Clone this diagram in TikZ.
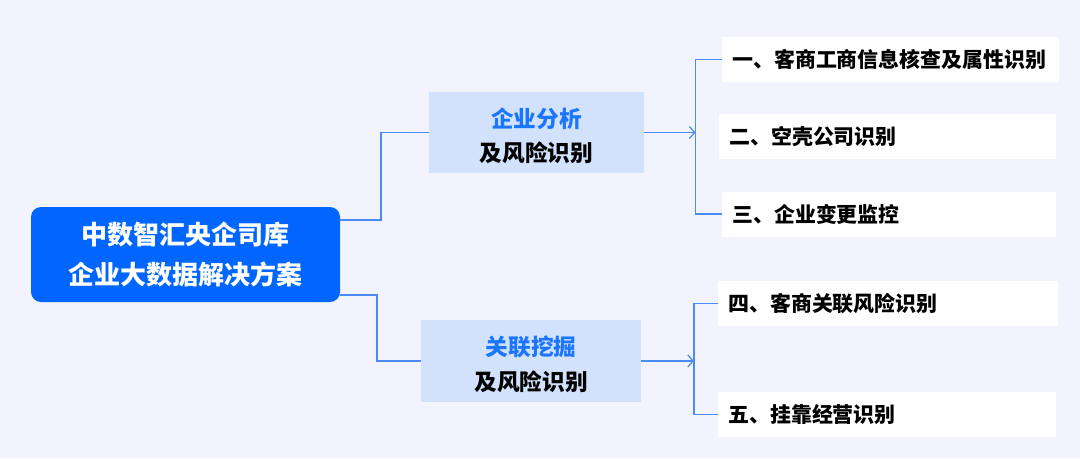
\documentclass[tikz,border=0pt]{standalone}
\usepackage{fontspec}
\newfontfamily\cjk{Noto Sans CJK SC}
\usetikzlibrary{arrows.meta}
\definecolor{bg}{HTML}{F2F3FD}
\definecolor{mainblue}{HTML}{0066FF}
\definecolor{midfill}{HTML}{D2E2FD}
\definecolor{bluetext}{HTML}{1A75FF}
\definecolor{linecol}{HTML}{4A8BF5}
\tikzset{
  mainbox/.style={fill=mainblue, rounded corners=7.5pt, text=white, align=center,
    minimum width=231.75pt, minimum height=71.25pt, inner sep=0pt,
    font=\cjk\bfseries\fontsize{19.5}{28}\selectfont},
  midbox/.style={fill=midfill, align=center, inner sep=0pt,
    font=\cjk\bfseries\fontsize{17}{24}\selectfont},
  leafbox/.style={fill=white, anchor=west, align=left, inner xsep=7.5pt, inner ysep=0pt,
    minimum height=33.75pt, font=\cjk\bfseries\fontsize{15.7}{18}\selectfont},
  conn/.style={draw=linecol, line width=0.95pt},
  arr/.style={conn, -{Straight Barb[length=4pt, width=9pt, line width=0.95pt]}}
}
\begin{document}
\begin{tikzpicture}[x=0.75pt, y=-0.75pt]
\fill[bg] (0,0) rectangle (1080,458);
\useasboundingbox (0,0) rectangle (1080,458);
\node[mainbox] (main) at (185.5,254.5) {中数智汇央企司库\\[2pt]企业大数据解决方案};
\node[midbox, minimum width=161.25pt, minimum height=60.75pt] (b1) at (536.5,132.5)
  {\rule{0pt}{19.5pt}\textcolor{bluetext}{企业分析}\\[2pt]及风险识别};
\node[midbox, minimum width=165pt, minimum height=61.5pt] (b2) at (531,361)
  {\rule{0pt}{19.5pt}\textcolor{bluetext}{关联挖掘}\\[2pt]及风险识别};
\node[leafbox, text width=237.75pt] (la) at (722,59.5) {一、客商工商信息核查及属性识别};
\node[leafbox, text width=237.75pt] (lb) at (719,136.5) {二、空壳公司识别};
\node[leafbox, text width=235.5pt] (lc) at (722,214) {三、企业变更监控};
\node[leafbox, text width=240pt] (ld) at (718,303.5) {四、客商关联风险识别};
\node[leafbox, text width=238.5pt] (le) at (718,414.5) {五、挂靠经营识别};
\coordinate (m1) at (340,220);
\coordinate (m2) at (340,295);
\coordinate (j1) at (695.5,132.5);
\coordinate (j2) at (694,361);
\draw[conn] (m1) -- ++(41,0) |- (b1.west);
\draw[conn] (m2) -- ++(37,0) |- (b2.west);
\draw[arr] (b1.east) -- (j1);
\draw[arr] (b2.east) -- (j2);
\draw[conn] (la.west) -| (j1) |- (lc.west);
\draw[conn] (ld.west) -| (j2) |- (le.west);
\end{tikzpicture}
\end{document}
